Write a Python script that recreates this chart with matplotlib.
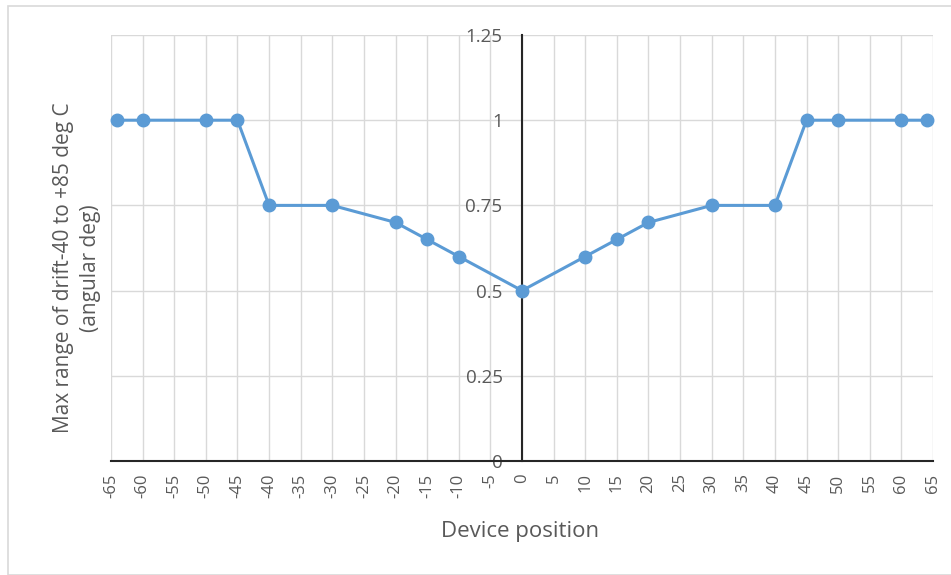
import matplotlib
matplotlib.use("Agg")
import matplotlib.pyplot as plt
from matplotlib.patches import Rectangle

positions = [-64, -60, -50, -45, -40, -30, -20, -15, -10, 0, 10, 15, 20, 30, 40, 45, 50, 60, 64]
drift = [1, 1, 1, 1, 0.75, 0.75, 0.7, 0.65, 0.6, 0.5, 0.6, 0.65, 0.7, 0.75, 0.75, 1, 1, 1, 1]
x_ticks = list(range(-65, 70, 5))
y_ticks = [0, 0.25, 0.5, 0.75, 1, 1.25]
y_tick_labels = ["0", "0.25", "0.5", "0.75", "1", "1.25"]

plt.rcParams['font.family'] = ['Open Sans', 'DejaVu Sans']

fig = plt.figure(figsize=(9.51, 5.75), dpi=100)
fig.patches.append(Rectangle((8/951, 0), 1.2, 1 - 6/575, transform=fig.transFigure,
                             fill=False, edgecolor='#D9D9D9', linewidth=1.2))
ax = fig.add_axes([111/951, 1 - 461/575, 822/951, 426/575])

for s in ['top', 'right']:
    ax.spines[s].set_visible(False)
ax.spines['left'].set_position(('data', 0))
ax.spines['left'].set_color('#262626')
ax.spines['left'].set_linewidth(1.5)
ax.spines['bottom'].set_color('#262626')
ax.spines['bottom'].set_linewidth(1.5)
ax.spines['left'].set_zorder(2)

ax.plot(positions, drift, color='#5B9BD5', linewidth=2.2, marker='o',
        markersize=9, markerfacecolor='#5B9BD5', markeredgecolor='#5B9BD5',
        clip_on=False, zorder=3)

ax.set_xlim(-65, 65)
ax.set_ylim(0, 1.25)
ax.set_xticks(x_ticks)
ax.set_xticklabels([str(v) for v in x_ticks], rotation=90, color='#595959', fontsize=12)
ax.set_yticks(y_ticks)
ax.set_yticklabels(y_tick_labels, color='#595959', fontsize=13.5)

ax.grid(True, color='#D9D9D9', linewidth=1)
ax.set_axisbelow(True)

ax.tick_params(axis='both', length=0)
ax.tick_params(axis='x', pad=9)
ax.tick_params(axis='y', pad=14)

fig.text(520/951, 1 - 531/575, 'Device position', ha='center', va='center',
         fontsize=16, color='#595959')
fig.text(77/951, 1 - 268/575, 'Max range of drift-40 to +85 deg C\n(angular deg)',
         rotation=90, ha='center', va='center', fontsize=15, color='#595959',
         multialignment='center', linespacing=1.4)

fig.savefig('out.png', dpi=100)
